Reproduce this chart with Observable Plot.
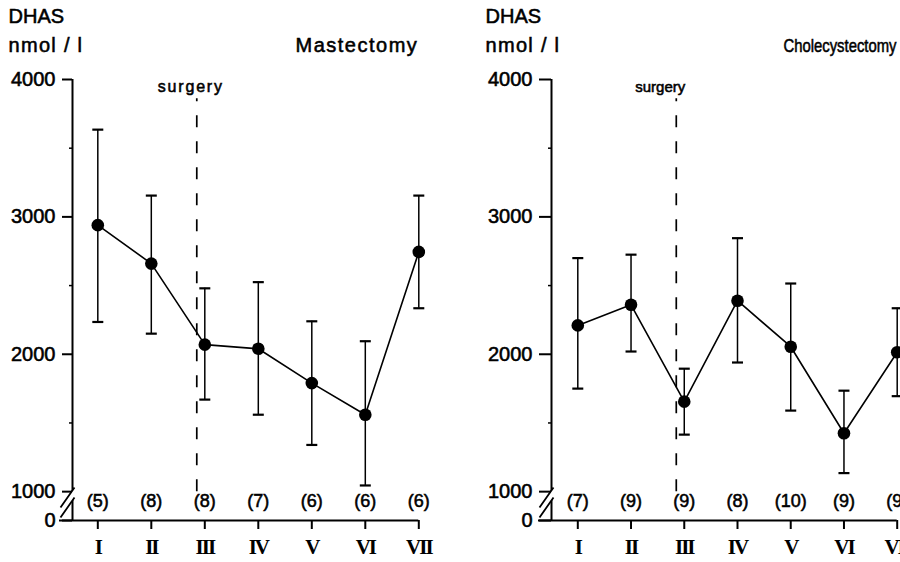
<!DOCTYPE html>
<html><head><meta charset="utf-8">
<script src="https://cdn.jsdelivr.net/npm/d3@7"></script>
<script src="https://cdn.jsdelivr.net/npm/@observablehq/plot@0.6"></script>
<style>
html,body{margin:0;padding:0;background:#fff;overflow:hidden;}
#wrap{display:flex;width:900px;height:562px;overflow:hidden;}
#wrap svg{flex:none;}
</style></head><body><div id="wrap"></div>
<script>
// ---- data ----
const periods = ["I","II","III","IV","V","VI","VII"];
const periodIndex = [1,2,3,4,5,6,7];
const mastMean  = [2940, 2660, 2070, 2040, 1790, 1560, 2745];
const mastUpper = [3635, 3155, 2480, 2525, 2240, 2095, 3155];
const mastLower = [2235, 2150, 1670, 1560, 1340, 1045, 2335];
const mastN     = [5, 8, 8, 7, 6, 6, 6];
const cholMean  = [2210, 2360, 1655, 2390, 2055, 1425, 2015];
const cholUpper = [2700, 2725, 1895, 2845, 2515, 1735, 2335];
const cholLower = [1750, 2020, 1415, 1940, 1590, 1135, 1695];
const cholN     = [7, 9, 9, 8, 10, 9, 9];
const majorTicks = [1000, 2000, 3000, 4000];
const minorTicks = [1500, 2500, 3500];
const axisZero = 790;     // where the "0" of the broken axis sits
const breakAt = 921;      // centre of the axis break
const surgeryAt = 2.85;   // surgery, just before period III
const surgeryTop = 3860;

const serif = "'Liberation Serif','DejaVu Serif',serif";
const sans = "'Liberation Sans',Arial,sans-serif";

const capSymbol = {draw(ctx){ ctx.moveTo(-5.5,0); ctx.lineTo(5.5,0); }};
const breakFill = {draw(ctx){ ctx.moveTo(-12,15); ctx.lineTo(2,-5); ctx.lineTo(2,-15); ctx.lineTo(-12,5); ctx.closePath(); }};
const breakLines = {draw(ctx){ ctx.moveTo(-12,15); ctx.lineTo(2,-5); ctx.moveTo(-12,5); ctx.lineTo(2,-15); }};

function panel(o) {
  const rows = periodIndex.map((x, i) => ({x, mean: o.mean[i], hi: o.upper[i], lo: o.lower[i], n: `(${o.n[i]})`}));
  const x0 = o.axisStart;
  const svg = Plot.plot({
    width: 450, height: 562,
    marginLeft: o.marginLeft, marginRight: o.marginRight, marginTop: 79, marginBottom: 42,
    style: {fontFamily: sans, fontSize: "20px", background: "white", color: "black"},
    x: {domain: [x0, 7]},
    y: {domain: [axisZero, 4000]},
    marks: [
      Plot.ruleX([x0], {y1: axisZero, y2: 4000, strokeWidth: 2}),
      Plot.ruleY([axisZero], {x1: x0, x2: 7, insetLeft: -13, strokeWidth: 2}),
      Plot.dot([breakAt], {x: () => x0, y: d => d, symbol: breakFill, fill: "white", stroke: "none"}),
      Plot.dot([breakAt], {x: () => x0, y: d => d, symbol: breakLines, fill: "none", stroke: "black", strokeWidth: 1.8}),
      Plot.axisY({ticks: majorTicks, tickSize: o.tickSize, tickPadding: 7, tickFormat: d => String(d), fontSize: 20, strokeWidth: 2, label: null}),
      Plot.axisY({ticks: [axisZero], tickSize: o.tickSize, tickPadding: 7, tickFormat: () => "0", fontSize: 20, strokeWidth: 2, label: null}),
      Plot.axisY({ticks: minorTicks, tickSize: 3, tickFormat: () => "", strokeWidth: 1.5, label: null}),
      Plot.axisX({ticks: periodIndex, tickSize: 9, tickPadding: 10, tickFormat: i => periods[i-1], fontFamily: serif, fontWeight: "bold", fontSize: 21, strokeWidth: 2, label: null}),
      Plot.ruleX([surgeryAt], {y1: 1000, y2: surgeryTop, strokeDasharray: "12 14", strokeWidth: 1.7}),
      Plot.text(["surgery"], {x: surgeryAt, y: surgeryTop, dx: o.surgeryDx, dy: -12, fontSize: o.surgerySize, textAnchor: "middle"}),
      Plot.ruleX(rows, {x: "x", y1: "lo", y2: "hi", strokeWidth: 1.5}),
      Plot.dot(rows, {x: "x", y: "hi", symbol: capSymbol, fill: "none", stroke: "black", strokeWidth: 2.2}),
      Plot.dot(rows, {x: "x", y: "lo", symbol: capSymbol, fill: "none", stroke: "black", strokeWidth: 2.2}),
      Plot.line(rows, {x: "x", y: "mean", stroke: "black", strokeWidth: 1.6}),
      Plot.dot(rows, {x: "x", y: "mean", r: 6.3, fill: "black"}),
      Plot.text(rows, {x: "x", text: "n", frameAnchor: "bottom", dy: -14, fontSize: 18}),
      Plot.text(["DHAS"], {frameAnchor: "top-left", dx: o.titleDx, dy: -62.5, textAnchor: "start", lineAnchor: "middle", fontSize: 20}),
      Plot.text(["nmol / l"], {frameAnchor: "top-left", dx: o.titleDx, dy: -33.5, textAnchor: "start", lineAnchor: "middle", fontSize: 20}),
      Plot.text([o.title], {frameAnchor: "top-left", dx: o.nameDx, dy: -33.5, textAnchor: "start", lineAnchor: "middle", fontSize: o.nameSize})
    ]
  });
  const spacing = Object.assign({"nmol / l": 1.3}, o.spacing);
  periods.forEach(p => spacing[p] = -2);
  d3.select(svg).selectAll("text").each(function() {
    const t = this.textContent;
    const sel = d3.select(this);
    if (t in spacing) sel.attr("letter-spacing", spacing[t]);
    if (o.fitLength && t === o.title) sel.attr("textLength", o.fitLength).attr("lengthAdjust", "spacingAndGlyphs");
    if (!periods.includes(t)) sel.attr("stroke", "black").attr("stroke-width", 0.55);
  });
  return svg;
}

const wrap = document.getElementById("wrap");
wrap.append(panel({
  title: "Mastectomy", mean: mastMean, upper: mastUpper, lower: mastLower, n: mastN,
  axisStart: 0.527, marginLeft: 72, marginRight: 31.7, tickSize: 10,
  surgeryDx: -6, surgerySize: 16, titleDx: -64, nameDx: 223, nameSize: 20,
  spacing: {"surgery": 1.8, "Mastectomy": 1.5}
}));
wrap.append(panel({
  title: "Cholecystectomy", mean: cholMean, upper: cholUpper, lower: cholLower, n: cholN,
  axisStart: 0.506, marginLeft: 101, marginRight: 3.3, tickSize: 12,
  surgeryDx: -16, surgerySize: 15, titleDx: -66, nameDx: 232, nameSize: 19,
  fitLength: 113, spacing: {}
}));
</script></body></html>
